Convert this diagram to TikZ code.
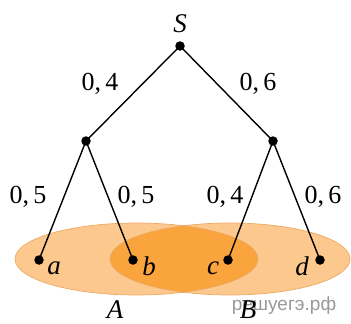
\documentclass[tikz,border=0pt]{standalone}
\usepackage{fontspec}
\setmainfont{Liberation Serif}
\newfontfamily\wmfont{Liberation Sans}
\definecolor{ellLight}{RGB}{252,200,142}
\definecolor{ellDark}{RGB}{249,164,60}
\definecolor{ellEdge}{RGB}{236,170,100}
\begin{document}
\begin{tikzpicture}[x=1pt,y=-1pt,
  dotnode/.style={circle,fill=black,inner sep=0pt,minimum size=9.5pt},
  edge/.style={line width=1.4pt,black},
  prob/.style={font=\fontsize{26}{30}\selectfont,inner sep=0pt},
  leaflab/.style={font=\fontsize{27}{30}\selectfont\itshape,inner sep=0pt},
  ellstyle/.style={draw=ellEdge,line width=0.7pt}]
\useasboundingbox (0,0) rectangle (351,324);
% ellipses
\fill[ellLight] (136.5,259) ellipse [x radius=121.5,y radius=36];
\fill[ellLight] (230,259) ellipse [x radius=120,y radius=36];
\begin{scope}
  \clip (136.5,259) ellipse [x radius=121.5,y radius=36];
  \fill[ellDark] (230,259) ellipse [x radius=120,y radius=36];
\end{scope}
\draw[ellstyle] (136.5,259) ellipse [x radius=121.5,y radius=36];
\draw[ellstyle] (230,259) ellipse [x radius=120,y radius=36];
% nodes
\node[dotnode] (S) at (180,46) {};
\node[dotnode] (L) at (86,141) {};
\node[dotnode] (R) at (273,141) {};
\node[dotnode] (a) at (39,260) {};
\node[dotnode] (b) at (133,260) {};
\node[dotnode] (c) at (228,260) {};
\node[dotnode] (d) at (320,260) {};
% edges
\draw[edge] (S.center) -- (L.center);
\draw[edge] (S.center) -- (R.center);
\draw[edge] (L.center) -- (a.center);
\draw[edge] (L.center) -- (b.center);
\draw[edge] (R.center) -- (c.center);
\draw[edge] (R.center) -- (d.center);
% labels
\node[leaflab] (Slab) at (180,24) {S};
\node[prob] (p1) at (100,84) {0,\,4};
\node[prob] (p2) at (258,84) {0,\,6};
\node[prob] (p3) at (28,197) {0,\,5};
\node[prob] (p4) at (136,197) {0,\,5};
\node[prob] (p5) at (225,197) {0,\,4};
\node[prob] (p6) at (323,197) {0,\,6};
\node[leaflab] (la) at (54,268) {a};
\node[leaflab] (lb) at (149,266) {b};
\node[leaflab] (lc) at (213,268) {c};
\node[leaflab] (ld) at (302,266) {d};
\node[font=\wmfont\fontsize{19}{22}\selectfont,text=black!40,inner sep=0pt] (wm) at (284,306) {решуегэ.рф};
\node[leaflab] (lA) at (115,310) {A};
\node[leaflab] (lB) at (248,310) {B};
\end{tikzpicture}
\end{document}
